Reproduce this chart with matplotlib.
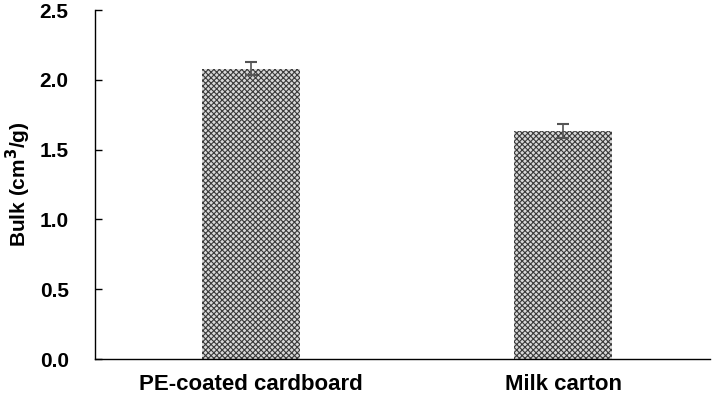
import numpy as np
import matplotlib
matplotlib.use("Agg")
import matplotlib.pyplot as plt

categories = ["PE-coated cardboard", "Milk carton"]
bulk = [2.08, 1.63]
bulk_err = [0.045, 0.05]
yticks = [0.0, 0.5, 1.0, 1.5, 2.0, 2.5]

plt.rcParams['font.family'] = ['Liberation Sans', 'DejaVu Sans']
plt.rcParams['hatch.linewidth'] = 0.8

fig = plt.figure(figsize=(7.21, 3.96), dpi=100)
ax = fig.add_axes([0.1318, 0.0934, 0.853, 0.8813])

x = np.arange(len(categories))
ax.bar(x, bulk, width=0.315, color="#d8d8d8", edgecolor="#3a3a3a",
       hatch="xxxxxx", linewidth=0, zorder=2)
ax.errorbar(x, bulk, yerr=bulk_err, fmt="none", ecolor="#555555",
            elinewidth=1.2, capsize=4, capthick=1.5, zorder=3)

ax.set_xlim(-0.5, 1.47)
ax.set_ylim(0, 2.5)
ax.set_yticks(yticks)
ax.set_yticklabels([f"{v:.1f}" for v in yticks], fontsize=15, fontweight="bold")
ax.set_xticks(x)
ax.set_xticklabels(categories, fontsize=16, fontweight="bold")
ax.tick_params(axis="y", direction="in", length=5, width=1, pad=19)
ax.tick_params(axis="x", length=0, pad=11)
ax.set_ylabel("Bulk (cm$^{\\mathbf{3}}$/g)", fontsize=15, fontweight="bold", labelpad=5)

for s in ["top", "right"]:
    ax.spines[s].set_visible(False)
for s in ["left", "bottom"]:
    ax.spines[s].set_linewidth(1.0)

fig.savefig("out.png", dpi=100)
